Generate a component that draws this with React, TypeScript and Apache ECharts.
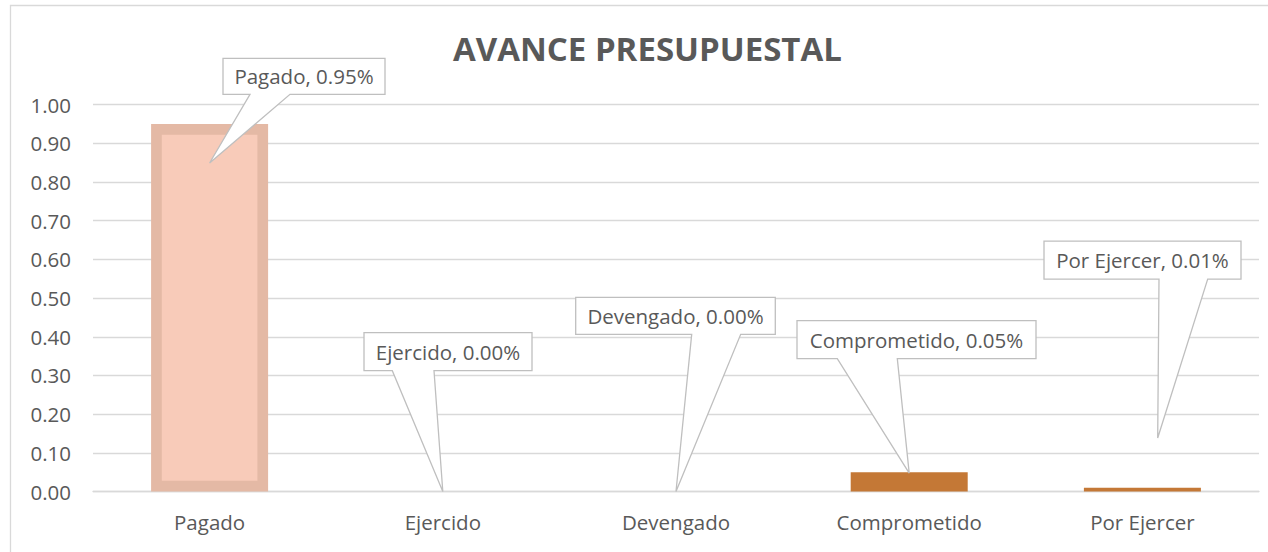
import React, { useEffect, useRef } from "react";
import * as echarts from "echarts";

const categories = ["Pagado", "Ejercido", "Devengado", "Comprometido", "Por Ejercer"];
const values = [0.95, 0.0, 0.0, 0.05, 0.01];
const yTicks = { min: 0, max: 1, interval: 0.1 };
const titleText = "AVANCE PRESUPUESTAL";

// styles (not data)
const barColors = ["#E4B9A5", "#C47836", "#C47836", "#C47836", "#C47836"];
const innerColors = ["#F8CBB9", null, null, null, null];
const BAR_W = 117;
const INSET = 10.7;
const FONT = "'Open Sans', sans-serif";
const TEXT = "#595959";
const GRID = "#D9D9D9";

// callout layout, pixel offsets from the bar top
const calloutLayout = [
  { dx: 13.4, dy: -65.7, w: 162, h: 36, b1: 27, b2: 67, tdx: 0, tdy: 39 },
  { dx: -78.8, dy: -158.8, w: 168, h: 38, b1: 28.3, b2: 70, tdx: 0, tdy: 0 },
  { dx: -100.3, dy: -194.2, w: 199.6, h: 37, b1: 116, b2: 165, tdx: 0, tdy: 0 },
  { dx: -112.2, dy: -151.5, w: 239, h: 38, b1: 40.3, b2: 100.3, tdx: 0, tdy: 1 },
  { dx: -98.4, dy: -246.6, w: 197, h: 38, b1: 115, b2: 163.7, tdx: 15.3, tdy: -49.6 },
];

export default function App() {
  const ref = useRef<HTMLDivElement>(null);
  useEffect(() => {
    document.body.style.margin = "0";
    if (!ref.current) return;
    const chart = echarts.init(ref.current, null, { renderer: "svg" });
    const pairs = values.map((v, i) => [i, v]);
    chart.setOption({
      animation: false,
      backgroundColor: "#FFFFFF",
      title: {
        text: titleText,
        left: 453,
        top: 32,
        padding: 0,
        textStyle: { fontFamily: FONT, fontSize: 33, fontWeight: "bold", color: TEXT },
      },
      graphic: [
        {
          type: "rect",
          shape: { x: 10.5, y: 5.5, width: 1300, height: 600 },
          style: { fill: "none", stroke: GRID, lineWidth: 1.3 },
          silent: true,
          z: -10,
        },
      ],
      grid: { left: 93, right: 9, top: 104.7, bottom: 60.5, containLabel: false },
      xAxis: {
        type: "category",
        data: categories,
        axisLine: { show: true, lineStyle: { color: GRID, width: 1.3 } },
        axisTick: { show: false },
        axisLabel: { color: TEXT, fontFamily: FONT, fontSize: 20.5, margin: 20 },
      },
      yAxis: {
        type: "value",
        min: yTicks.min,
        max: yTicks.max,
        interval: yTicks.interval,
        axisLine: { show: false },
        axisTick: { show: false },
        splitLine: { lineStyle: { color: GRID, width: 1.3 } },
        axisLabel: {
          color: TEXT,
          fontFamily: FONT,
          fontSize: 20.5,
          margin: 22,
          formatter: (v: number) => v.toFixed(2),
        },
      },
      series: [
        {
          type: "bar",
          name: "Avance",
          barWidth: BAR_W,
          data: values.map((v, i) => ({ value: v, itemStyle: { color: barColors[i] } })),
          z: 2,
        },
        {
          type: "custom",
          name: "inner",
          data: pairs,
          z: 3,
          clip: false,
          silent: true,
          renderItem: (params: any, api: any) => {
            const i = api.value(0);
            const col = innerColors[i];
            if (!col) return { type: "group", children: [] };
            const top = api.coord([i, api.value(1)]);
            const zero = api.coord([i, 0]);
            return {
              type: "rect",
              shape: {
                x: top[0] - BAR_W / 2 + INSET,
                y: top[1] + INSET,
                width: BAR_W - 2 * INSET,
                height: zero[1] - top[1] - 2 * INSET,
              },
              style: { fill: col },
            };
          },
        },
        {
          type: "custom",
          name: "callouts",
          data: pairs,
          z: 5,
          clip: false,
          silent: true,
          renderItem: (params: any, api: any) => {
            const i = api.value(0);
            const v = api.value(1);
            const p = api.coord([i, v]);
            const L = calloutLayout[i];
            const left = p[0] + L.dx;
            const top = p[1] + L.dy;
            const right = left + L.w;
            const bottom = top + L.h;
            const tip = [p[0] + L.tdx, p[1] + L.tdy];
            return {
              type: "group",
              children: [
                {
                  type: "polygon",
                  shape: {
                    points: [
                      [left, top],
                      [right, top],
                      [right, bottom],
                      [left + L.b2, bottom],
                      tip,
                      [left + L.b1, bottom],
                      [left, bottom],
                    ],
                  },
                  style: { fill: "#FFFFFF", stroke: "#BFBFBF", lineWidth: 1.3 },
                },
                {
                  type: "text",
                  style: {
                    x: (left + right) / 2,
                    y: (top + bottom) / 2,
                    text: `${categories[i]}, ${v.toFixed(2)}%`,
                    align: "center",
                    verticalAlign: "middle",
                    fontFamily: FONT,
                    fontSize: 20.5,
                    fill: TEXT,
                  },
                },
              ],
            };
          },
        },
      ],
    });
    return () => chart.dispose();
  }, []);
  return <div ref={ref} style={{ width: 1268, height: 552 }} />;
}
